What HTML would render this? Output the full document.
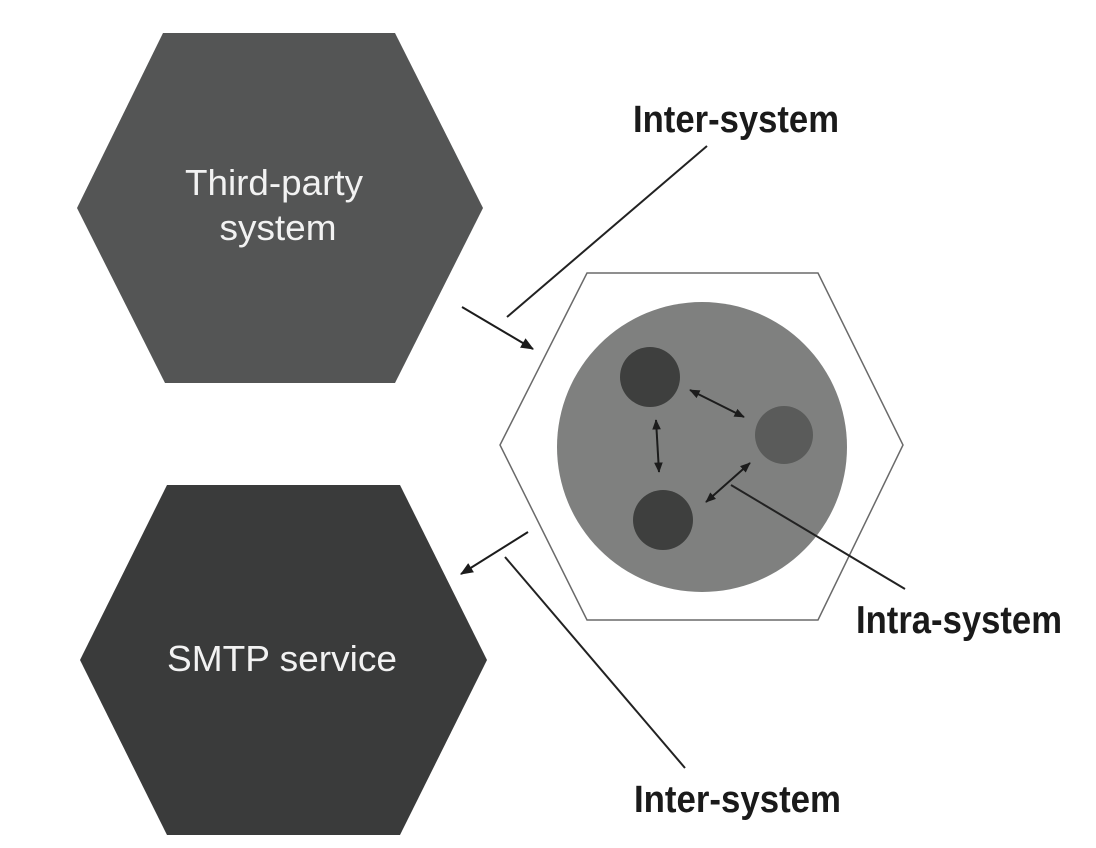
<!DOCTYPE html>
<html>
<head>
<meta charset="utf-8">
<style>
  html, body { margin: 0; padding: 0; background: #ffffff; }
  body { width: 1096px; height: 848px; overflow: hidden; }
  svg { display: block; }
</style>
</head>
<body>
<svg width="1096" height="848" viewBox="0 0 1096 848" xmlns="http://www.w3.org/2000/svg">
  <defs>
    <marker id="ah" viewBox="0 0 12 10" refX="11" refY="5" markerWidth="6.5" markerHeight="5.5" orient="auto-start-reverse" markerUnits="strokeWidth">
      <path d="M0,0 L12,5 L0,10 z" fill="#1c1c1c"/>
    </marker>
    <marker id="ahs" viewBox="0 0 12 10" refX="11" refY="5" markerWidth="5.2" markerHeight="4.6" orient="auto-start-reverse" markerUnits="strokeWidth">
      <path d="M0,0 L12,5 L0,10 z" fill="#1c1c1c"/>
    </marker>
  </defs>

  <rect width="1096" height="848" fill="#ffffff"/>

  <!-- Top hexagon: Third-party system -->
  <polygon points="163,33 395,33 483,208 395,383 165,383 77,208" fill="#545555"/>
  <text x="274" y="195" font-family="Liberation Sans, Arial, sans-serif" font-size="36" fill="#f2f2f2" text-anchor="middle" textLength="178" lengthAdjust="spacingAndGlyphs">Third-party</text>
  <text x="278" y="240" font-family="Liberation Sans, Arial, sans-serif" font-size="36" fill="#f2f2f2" text-anchor="middle" textLength="117" lengthAdjust="spacingAndGlyphs">system</text>

  <!-- Bottom hexagon: SMTP service -->
  <polygon points="167,485 400,485 487,660 400,835 167,835 80,660" fill="#3a3b3b"/>
  <text x="282" y="671" font-family="Liberation Sans, Arial, sans-serif" font-size="36" fill="#f2f2f2" text-anchor="middle" textLength="230" lengthAdjust="spacingAndGlyphs">SMTP service</text>

  <!-- Center hexagon outline -->
  <polygon points="587,273 818,273 903,445 818,620 587,620 500,445" fill="#ffffff" stroke="#6a6a6a" stroke-width="1.5"/>

  <!-- Big circle -->
  <circle cx="702" cy="447" r="145" fill="#7f807f"/>

  <!-- Small circles -->
  <circle cx="650" cy="377" r="30" fill="#3e3f3e"/>
  <circle cx="784" cy="435" r="29" fill="#5a5b5a"/>
  <circle cx="663" cy="520" r="30" fill="#3e3f3e"/>

  <!-- Inner double arrows -->
  <line x1="690" y1="390" x2="744" y2="417" stroke="#1c1c1c" stroke-width="2" marker-start="url(#ahs)" marker-end="url(#ahs)"/>
  <line x1="656" y1="420" x2="659" y2="472" stroke="#1c1c1c" stroke-width="2" marker-start="url(#ahs)" marker-end="url(#ahs)"/>
  <line x1="750" y1="463" x2="706" y2="502" stroke="#1c1c1c" stroke-width="2" marker-start="url(#ahs)" marker-end="url(#ahs)"/>

  <!-- Intra-system pointer line -->
  <line x1="731" y1="485" x2="905" y2="589" stroke="#222" stroke-width="2"/>

  <!-- Outer arrows -->
  <line x1="462" y1="307" x2="533" y2="349" stroke="#1c1c1c" stroke-width="2" marker-end="url(#ah)"/>
  <line x1="528" y1="532" x2="461" y2="574" stroke="#1c1c1c" stroke-width="2" marker-end="url(#ah)"/>

  <!-- Inter-system pointer lines -->
  <line x1="507" y1="317" x2="707" y2="146" stroke="#222" stroke-width="2"/>
  <line x1="505" y1="557" x2="685" y2="768" stroke="#222" stroke-width="2"/>

  <!-- Labels -->
  <text x="633" y="132" font-family="Liberation Sans, Arial, sans-serif" font-weight="bold" font-size="38" fill="#1a1a1a" textLength="206" lengthAdjust="spacingAndGlyphs">Inter-system</text>
  <text x="856" y="633" font-family="Liberation Sans, Arial, sans-serif" font-weight="bold" font-size="39" fill="#1a1a1a" textLength="206" lengthAdjust="spacingAndGlyphs">Intra-system</text>
  <text x="634" y="812" font-family="Liberation Sans, Arial, sans-serif" font-weight="bold" font-size="38" fill="#1a1a1a" textLength="207" lengthAdjust="spacingAndGlyphs">Inter-system</text>
</svg>
</body>
</html>
